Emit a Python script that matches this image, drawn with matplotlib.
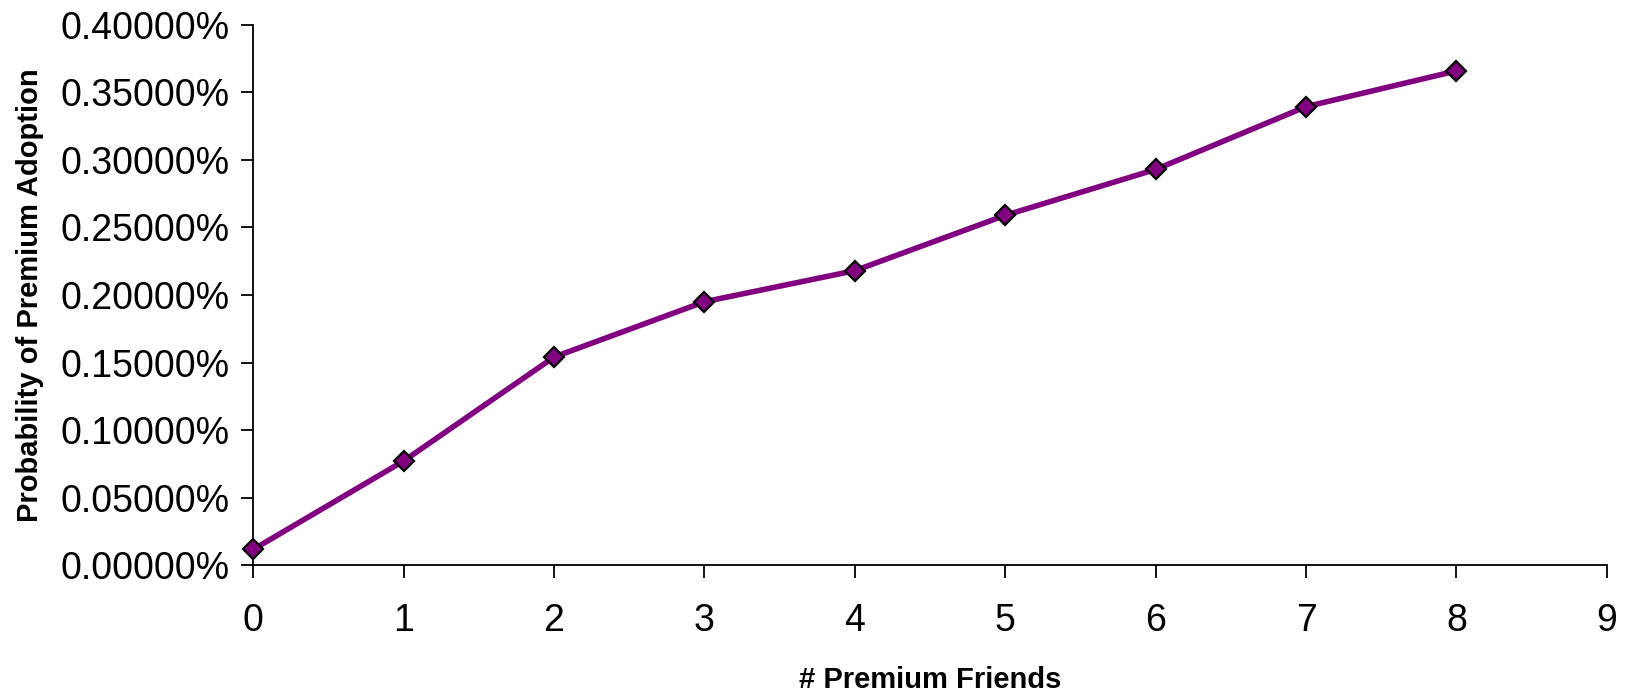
import matplotlib.pyplot as plt
import matplotlib.ticker as mticker

# data (values in percent)
friends = [0, 1, 2, 3, 4, 5, 6, 7, 8]
adoption_pct = [0.0115, 0.0770, 0.1540, 0.1950, 0.2180, 0.2590, 0.2930, 0.3395, 0.3660]
x_ticks = list(range(0, 10))
y_ticks = [0.0, 0.05, 0.10, 0.15, 0.20, 0.25, 0.30, 0.35, 0.40]

plt.rcParams['font.family'] = ['Liberation Sans', 'DejaVu Sans']

fig = plt.figure(figsize=(16.33, 6.92), dpi=100)
ax = fig.add_axes([0.155, 0.1835, 0.829, 0.7804])

ax.plot(friends, adoption_pct, color='#800080', linewidth=4,
        marker='D', markersize=10.5, markerfacecolor='#800080',
        markeredgecolor='black', markeredgewidth=1.6, clip_on=False, zorder=3)

ax.set_xlim(0, 9)
ax.set_ylim(0, 0.4)
ax.set_xticks(x_ticks)
ax.set_yticks(y_ticks)
ax.yaxis.set_major_formatter(mticker.FuncFormatter(lambda v, p: f"{v:.5f}%"))

for s in ['top', 'right']:
    ax.spines[s].set_visible(False)
for s in ['left', 'bottom']:
    ax.spines[s].set_linewidth(1.3)
    ax.spines[s].set_color('black')

ax.tick_params(axis='both', direction='out', length=9, width=1.3, labelsize=27, pad=8)
ax.tick_params(axis='x', pad=18)

ax.set_xlabel('# Premium Friends', fontsize=21, fontweight='bold', labelpad=20)
ax.set_ylabel('Probability of Premium Adoption', fontsize=21, fontweight='bold', labelpad=12)

fig.savefig('out.png', dpi=100)
